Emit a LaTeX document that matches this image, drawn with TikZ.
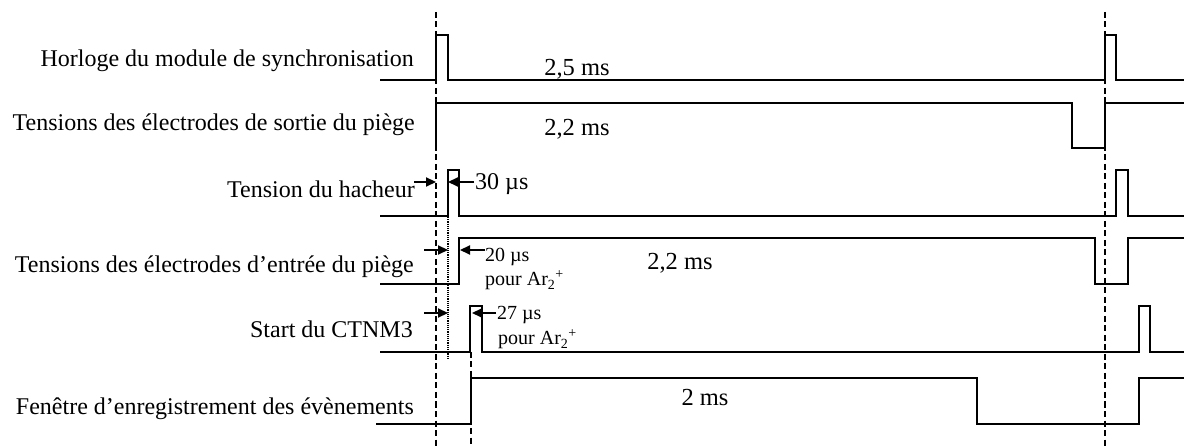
\documentclass[tikz,border=0pt]{standalone}
\usepackage{fontspec}
\setmainfont{Liberation Serif}
\usetikzlibrary{arrows.meta}
\begin{document}
\begin{tikzpicture}[x=1pt,y=-1pt,
 sig/.style={line width=2pt, line join=miter},
 vdash/.style={line width=2.6pt, dash pattern=on 6pt off 3.5pt},
 vdot/.style={line width=2pt, dash pattern=on 1.2pt off 1pt},
 dimarrow/.style={line width=2.2pt, -{Triangle[length=10pt,width=9pt]}},
 lab/.style={anchor=base east, font=\fontsize{24}{28}\selectfont, inner sep=0pt},
 dur/.style={anchor=base, font=\fontsize{24.5}{28}\selectfont, inner sep=0pt},
 big/.style={anchor=base west, font=\fontsize{24}{28}\selectfont, inner sep=0pt},
 note/.style={anchor=base west, font=\fontsize{20}{24}\selectfont, inner sep=0pt}]
\useasboundingbox (0,0) rectangle (1184,446);

% labels
\node[lab] (l1) at (414,67) {Horloge du module de synchronisation};
\node[lab] (l2) at (415,131) {Tensions des électrodes de sortie du piège};
\node[lab] (l3) at (415,198) {Tension du hacheur};
\node[lab] (l4) at (414,273) {Tensions des électrodes d’entrée du piège};
\node[lab] (l5) at (413,338) {Start du CTNM3};
\node[lab] (l6) at (414,414) {Fenêtre d’enregistrement des évènements};

% reference lines
\coordinate (dA1) at (436,12);  \coordinate (dA2) at (436,446);
\coordinate (dB1) at (1105,12); \coordinate (dB2) at (1105,446);
\coordinate (dC1) at (471,352); \coordinate (dC2) at (471,446);
\coordinate (dt1) at (448,217); \coordinate (dt2) at (448,360);
\draw[vdash] (dA1) -- (dA2);
\draw[vdash] (dB1) -- (dB2);
\draw[vdash] (dC1) -- (dC2);
\draw[vdot] (dt1) -- (dt2);

% waveforms
\draw[sig] (380,80) -- (436,80) -- (436,35) -- (448,35) -- (448,80) -- (1105,80) -- (1105,35) -- (1116,35) -- (1116,80) -- (1184,80);
\draw[sig] (436,148) -- (436,103) -- (1072,103) -- (1072,148) -- (1105,148) -- (1105,103) -- (1184,103);
\draw[sig] (380,216) -- (448,216) -- (448,170) -- (459,170) -- (459,216) -- (1116,216) -- (1116,170) -- (1128,170) -- (1128,216) -- (1184,216);
\draw[sig] (380,284) -- (459,284) -- (459,238) -- (1095,238) -- (1095,284) -- (1128,284) -- (1128,238) -- (1184,238);
\draw[sig] (380,352) -- (470,352) -- (470,306) -- (482,306) -- (482,352) -- (1139,352) -- (1139,306) -- (1150,306) -- (1150,352) -- (1184,352);
\draw[sig] (376,424) -- (471,424) -- (471,378) -- (977,378) -- (977,424) -- (1139,424) -- (1139,378) -- (1184,378);

% durations
\node[dur] (t1) at (577,76) {2,5 ms};
\node[dur] (t2) at (577,136) {2,2 ms};
\node[dur] (t4) at (680,270) {2,2 ms};
\node[dur] (t6) at (705,406) {2 ms};

% delay markers
\coordinate (a3s) at (414,182); \coordinate (a3e) at (436,182);
\coordinate (b3s) at (474,182); \coordinate (b3e) at (448,182);
\draw[dimarrow] (a3s) -- (a3e);
\draw[dimarrow] (b3s) -- (b3e);
\node[big] (n3) at (475,190) {30 µs};

\coordinate (a4s) at (424,250); \coordinate (a4e) at (448,250);
\coordinate (b4s) at (485,250); \coordinate (b4e) at (460,250);
\draw[dimarrow] (a4s) -- (a4e);
\draw[dimarrow] (b4s) -- (b4e);
\node[note] (n4) at (485,262) {20 µs};
\node[note] (p4) at (485,286) {pour Ar\textsubscript{2}\textsuperscript{+}};

\coordinate (a5s) at (424,313); \coordinate (a5e) at (448,313);
\coordinate (b5s) at (496,313); \coordinate (b5e) at (472,313);
\draw[dimarrow] (a5s) -- (a5e);
\draw[dimarrow] (b5s) -- (b5e);
\node[note] (n5) at (497,320) {27 µs};
\node[note] (p5) at (498,345) {pour Ar\textsubscript{2}\textsuperscript{+}};
\end{tikzpicture}
\end{document}
